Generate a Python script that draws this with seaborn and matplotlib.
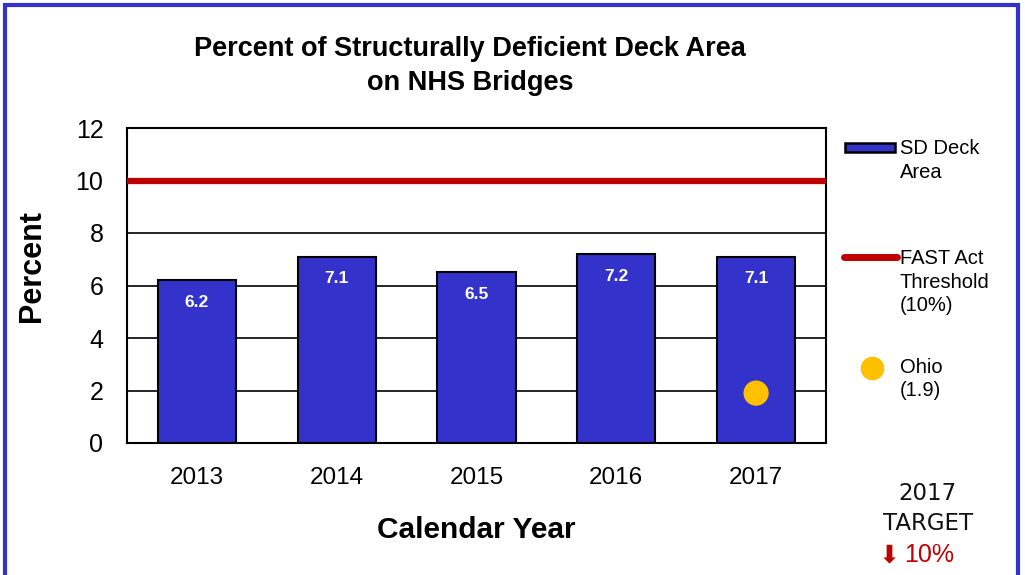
import matplotlib
matplotlib.use("Agg")
import matplotlib.pyplot as plt
import seaborn as sns
import pandas as pd
from matplotlib.patches import Rectangle
from matplotlib.lines import Line2D

years = ["2013", "2014", "2015", "2016", "2017"]
sd_deck_area = [6.2, 7.1, 6.5, 7.2, 7.1]
fast_threshold = 10.0
ohio_year = "2017"
ohio_value = 1.9
y_ticks = [0, 2, 4, 6, 8, 10, 12]

sns.set_theme(style="white")
plt.rcParams["font.family"] = ["Liberation Sans", "DejaVu Sans"]
plt.rcParams["text.color"] = "black"
plt.rcParams["axes.labelcolor"] = "black"
plt.rcParams["xtick.color"] = "black"
plt.rcParams["ytick.color"] = "black"

BLUE = "#3333CC"
RED = "#C00000"
GOLD = "#FFC000"

df = pd.DataFrame({"year": years, "pct": sd_deck_area})

W, H = 1025, 575
fig = plt.figure(figsize=(W / 100, H / 100), dpi=100)
ax = fig.add_axes([127 / W, 1 - 443 / H, 699 / W, 315 / H])

# horizontal gridlines behind the bars
for t in y_ticks[1:]:
    ax.axhline(t, color="black", lw=1.2, zorder=0)

sns.barplot(data=df, x="year", y="pct", ax=ax, color=BLUE, saturation=1,
            width=0.56, edgecolor="black", linewidth=1.5, zorder=2)

for i, v in enumerate(sd_deck_area):
    ax.text(i, v - 0.84, f"{v}", ha="center", va="center", color="white",
            fontsize=12.5, fontweight="bold", zorder=4)

ax.axhline(fast_threshold, color=RED, lw=4.5, zorder=3)
ax.scatter([years.index(ohio_year)], [ohio_value], s=330, color=GOLD,
           zorder=5, edgecolors="none")

ax.set_xlim(-0.5, 4.5)
ax.set_ylim(0, 12)
ax.set_yticks(y_ticks)
ax.tick_params(axis="y", labelsize=18, length=0, pad=17)
ax.tick_params(axis="x", labelsize=17.5, length=0, pad=17.5)
for s in ax.spines.values():
    s.set_color("black")
    s.set_linewidth(1.5)
ax.set_xlabel("Calendar Year", fontsize=21.5, fontweight="bold", labelpad=19)
ax.set_ylabel("")
fig.text(32 / W, 1 - 266 / H, "Percent", rotation=90, ha="center", va="center",
         fontsize=22, fontweight="bold")

fig.text(470 / W, 1 - 66 / H, "Percent of Structurally Deficient Deck Area\non NHS Bridges",
         ha="center", va="center", fontsize=19.5, fontweight="bold", linespacing=1.38)

# legend keys and captions on the right
fig.add_artist(Rectangle((845 / W, 1 - 152 / H), 50 / W, 9 / H, transform=fig.transFigure,
                         facecolor=BLUE, edgecolor="black", linewidth=1.8))
fig.add_artist(Line2D([844 / W, 897 / W], [1 - 257 / H] * 2, transform=fig.transFigure,
                      color=RED, lw=5, solid_capstyle="round"))
fig.add_artist(Line2D([872 / W], [1 - 368 / H], transform=fig.transFigure, marker="o",
                      color="none", markerfacecolor=GOLD, markeredgecolor="none",
                      markersize=17))
legend_labels = [("SD Deck\nArea", 147), ("FAST Act\nThreshold\n(10%)", 257),
                 ("Ohio\n(1.9)", 366)]
for txt, ycenter in legend_labels:
    fig.text(900 / W, 1 - (ycenter - 8) / H, txt, ha="left", va="top",
             fontsize=14.5, linespacing=1.3)

fig.text(928 / W, 1 - 494 / H, "2017", ha="center", va="center",
         fontsize=16.5, family=["DejaVu Sans"], color="#111111")
fig.text(928 / W, 1 - 523 / H, "TARGET", ha="center", va="center",
         fontsize=16.5, family=["DejaVu Sans"], color="#111111")
fig.text(889 / W, 1 - 555 / H, "\u2b07", ha="center", va="center",
         fontsize=18, family=["DejaVu Sans"], color=RED)
fig.text(929 / W, 1 - 555 / H, "10%", ha="center", va="center",
         fontsize=18, family=["Liberation Sans"], color=RED)

# blue frame around the figure
fig.add_artist(Rectangle((5 / W, -0.05), 1013 / W, 1 - 5 / H + 0.05,
                         transform=fig.transFigure, fill=False,
                         edgecolor=BLUE, linewidth=3))

fig.savefig("out.png", dpi=100)
